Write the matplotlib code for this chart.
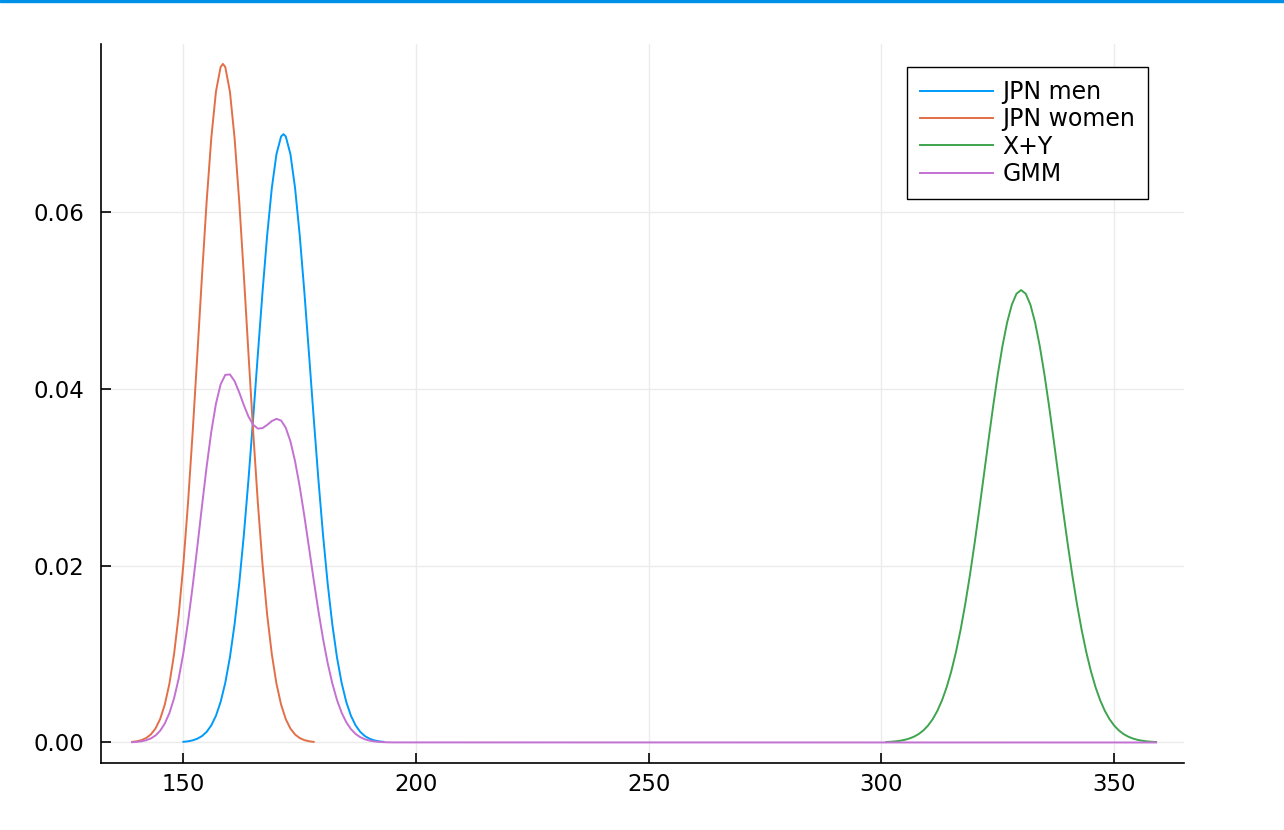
import matplotlib
matplotlib.use('Agg')
import matplotlib.pyplot as plt
from matplotlib.patches import Rectangle

# ---- data ----
men_x = list(range(150, 172)) + [171.5] + list(range(172, 194))
men_y = [0.0000714, 0.000133, 0.000241, 0.000425, 0.000725, 0.001202, 0.001935, 0.003022,
         0.00458, 0.00674, 0.00963, 0.01336, 0.01798, 0.02350, 0.02981, 0.03671, 0.04387,
         0.05090, 0.05733, 0.06268, 0.06652, 0.06852, 0.06878,
         0.06852, 0.06652, 0.06268, 0.05733, 0.05090, 0.04387, 0.03671, 0.02981, 0.02350,
         0.01798, 0.01336, 0.00963, 0.00674, 0.00458, 0.003022, 0.001935, 0.001202,
         0.000725, 0.000425, 0.000241, 0.000133, 0.0000714]

women_x = list(range(139, 159)) + [158.5] + list(range(159, 179))
women_y = [0.000068, 0.000137, 0.000266, 0.000500, 0.000903, 0.00157, 0.00264, 0.00427,
           0.00665, 0.00999, 0.01446, 0.02017, 0.02711, 0.03512, 0.04385, 0.05276,
           0.06117, 0.06835, 0.07359, 0.07637, 0.07672,
           0.07637, 0.07359, 0.06835, 0.06117, 0.05276, 0.04385, 0.03512, 0.02711,
           0.02017, 0.01446, 0.00999, 0.00665, 0.00427, 0.00264, 0.00157, 0.000903,
           0.000500, 0.000266, 0.000137, 0.000068]

sum_x = list(range(301, 360))
sum_y = [0.0000509, 0.0000814, 0.000128, 0.000198, 0.000301, 0.000450, 0.000662, 0.000958,
         0.001364, 0.001911, 0.002632, 0.003568, 0.00476, 0.00624, 0.00805, 0.01022,
         0.01275, 0.01566, 0.01892, 0.02249, 0.02629, 0.03023, 0.03419, 0.03805, 0.04165,
         0.04484, 0.04750, 0.04949, 0.05073, 0.05115,
         0.05073, 0.04949, 0.04750, 0.04484, 0.04165, 0.03805, 0.03419, 0.03023, 0.02629,
         0.02249, 0.01892, 0.01566, 0.01275, 0.01022, 0.00805, 0.00624, 0.00476, 0.003568,
         0.002632, 0.001911, 0.001364, 0.000958, 0.000662, 0.000450, 0.000301, 0.000198,
         0.000128, 0.0000814, 0.0000509]

gmm_x = list(range(139, 196)) + [359]
gmm_y = [0.000034, 0.000069, 0.000133, 0.000250, 0.000452, 0.000785, 0.00132, 0.002135,
         0.003325, 0.004995, 0.00725, 0.01012, 0.01362, 0.01768, 0.02214, 0.02674, 0.03119,
         0.03514, 0.03831, 0.04048, 0.04156, 0.04161, 0.04086, 0.03958, 0.03813, 0.03683,
         0.03592, 0.03549, 0.03554, 0.03590, 0.03634, 0.03659, 0.03640, 0.03558, 0.03405,
         0.03179, 0.02892, 0.02558, 0.02200, 0.01839, 0.01492, 0.01175, 0.00899, 0.00668,
         0.004815, 0.00337, 0.00229, 0.001511, 0.000968, 0.000601, 0.000363, 0.000213,
         0.000121, 0.0000665, 0.0000357, 0.0000186, 0.000009, 0.0]

labels = ["JPN men", "JPN women", "X+Y", "GMM"]
colors = ["#009AFA", "#E36F47", "#3EA44E", "#C371D2"]
x_ticks = [150, 200, 250, 300, 350]
y_ticks = [0.00, 0.02, 0.04, 0.06]

# ---- figure ----
plt.rcParams['font.family'] = ['DejaVu Sans']
fig = plt.figure(figsize=(12.84, 8.30), dpi=100)
ax = fig.add_axes([101/1284, 1 - 763/830, (1184 - 101)/1284, (763 - 44)/830])

series = [(men_x, men_y), (women_x, women_y), (sum_x, sum_y), (gmm_x, gmm_y)]
for (xs, ys), lab, col in zip(series, labels, colors):
    ax.plot(xs, ys, color=col, lw=1.4, label=lab, solid_joinstyle='round')

ax.set_xlim(132.3, 365.0)
ax.set_ylim(-0.00232, 0.07897)
ax.set_xticks(x_ticks)
ax.set_yticks(y_ticks)
ax.set_xticklabels([str(t) for t in x_ticks])
ax.set_yticklabels([f"{t:.2f}" for t in y_ticks])

ax.grid(True, color='#ebebeb', lw=1.0)
ax.set_axisbelow(True)
for s in ['top', 'right']:
    ax.spines[s].set_visible(False)
for s in ['left', 'bottom']:
    ax.spines[s].set_linewidth(1.2)
    ax.spines[s].set_color('black')
ax.tick_params(axis='both', direction='in', length=7.2, width=1.2, labelsize=16.4, colors='black')
ax.tick_params(axis='x', pad=7.5)
ax.tick_params(axis='y', pad=12)

leg = ax.legend(loc='upper left', bbox_to_anchor=(907/1284, 1 - 67/830),
                bbox_transform=fig.transFigure, borderaxespad=0, fontsize=17,
                frameon=True, fancybox=False, framealpha=1, edgecolor='black',
                handlelength=3.1, handletextpad=0.4, labelspacing=0.14, borderpad=0.55)
leg.get_frame().set_linewidth(1.0)

fig.patches.append(Rectangle((0, 1 - 2.5/830), 1, 2.5/830, transform=fig.transFigure,
                             color='#0091E6', zorder=10))

fig.savefig('out.png', dpi=100)
